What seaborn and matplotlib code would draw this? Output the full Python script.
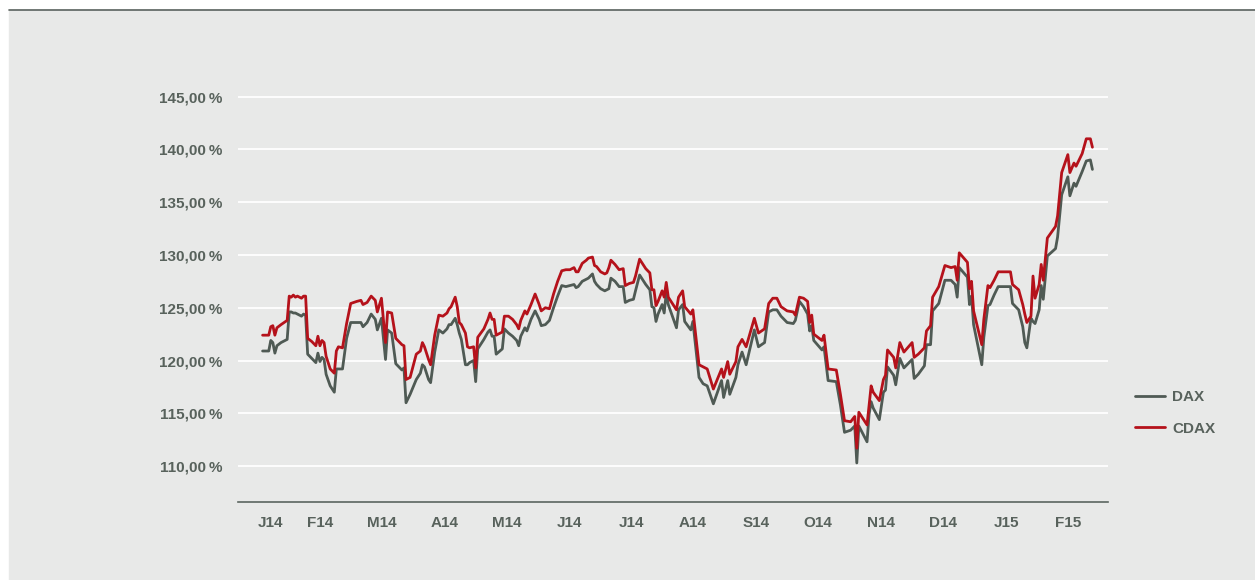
import pandas as pd
import seaborn as sns
import matplotlib.pyplot as plt
from matplotlib.patches import Rectangle
from matplotlib.lines import Line2D

# Tage seit 01.01.2014, Indexstand in %
days = [3, 6, 7, 8, 9, 10, 12, 15, 16, 17, 18, 19, 20, 22, 23, 24, 25, 27, 29, 30,
        31, 32, 33, 34, 36, 38, 39, 40, 42, 44, 46, 49, 51, 52, 54, 56, 58, 59, 61, 63,
        64, 66, 68, 71, 72, 73, 75, 78, 80, 81, 82, 84, 85, 87, 89, 91, 93, 94, 95, 97,
        98, 99, 100, 102, 103, 104, 106, 107, 108, 111, 113, 114, 115, 116, 117, 120, 121, 123, 125, 127,
        128, 129, 131, 132, 134, 136, 138, 139, 141, 143, 145, 147, 149, 151, 153, 155, 156, 157, 159, 161,
        162, 164, 165, 166, 168, 170, 171, 172, 173, 175, 177, 179, 180, 182, 184, 185, 187, 190, 192, 193,
        194, 195, 196, 198, 199, 200, 201, 203, 205, 206, 208, 209, 212, 213, 216, 218, 220, 223, 227, 228,
        230, 231, 234, 235, 237, 239, 243, 245, 248, 250, 252, 254, 256, 259, 262, 263, 265, 267, 269, 270,
        271, 272, 276, 277, 279, 283, 285, 287, 290, 292, 293, 294, 298, 299, 300, 301, 304, 306, 307, 308,
        311, 312, 314, 316, 320, 321, 323, 326, 327, 329, 330, 333, 336, 339, 341, 342, 343, 347, 348, 349,
        350, 354, 355, 357, 358, 360, 362, 368, 369, 372, 374, 375, 376, 378, 379, 380, 382, 383, 384, 386,
        390, 391, 393, 396, 397, 399, 400, 403, 405, 407, 408]

cdax = [122.4, 122.4, 123.2, 123.3, 122.4, 123.1, 123.4, 123.8, 126.1, 126.0, 126.2, 126.0, 126.1, 125.9, 126.1, 126.1, 122.1, 121.8, 121.4, 122.3,
        121.4, 121.9, 121.7, 120.4, 119.2, 118.8, 120.9, 121.3, 121.2, 123.5, 125.4, 125.6, 125.7, 125.3, 125.5, 126.1, 125.7, 124.6, 125.9, 121.7,
        124.6, 124.5, 122.1, 121.5, 121.4, 118.2, 118.4, 120.6, 120.9, 121.7, 121.3, 120.1, 119.6, 122.4, 124.3, 124.2, 124.5, 124.9, 125.1, 126.0,
        125.1, 123.6, 123.4, 122.6, 121.3, 121.2, 121.3, 119.3, 122.2, 123.0, 123.9, 124.5, 123.9, 123.9, 122.4, 122.7, 124.2, 124.2, 123.9, 123.4,
        123.0, 123.8, 124.7, 124.4, 125.3, 126.3, 125.3, 124.7, 125.0, 124.9, 126.3, 127.5, 128.5, 128.6, 128.6, 128.8, 128.4, 128.4, 129.2, 129.5,
        129.7, 129.8, 129.0, 128.9, 128.4, 128.2, 128.3, 128.8, 129.5, 129.1, 128.6, 128.7, 127.1, 127.3, 127.4, 128.0, 129.6, 128.7, 128.3, 126.7,
        126.7, 125.2, 125.6, 126.6, 126.0, 127.4, 126.0, 125.4, 124.8, 126.0, 126.6, 125.1, 124.4, 124.8, 119.6, 119.4, 119.2, 117.3, 119.2, 118.4,
        119.9, 118.7, 119.9, 121.3, 122.0, 121.3, 124.0, 122.6, 123.0, 125.4, 125.9, 125.9, 125.1, 124.7, 124.6, 124.3, 126.0, 125.9, 125.6, 123.6,
        124.3, 122.5, 121.9, 122.4, 119.2, 119.1, 116.8, 114.3, 114.2, 114.7, 111.7, 115.1, 113.9, 115.8, 117.6, 117.0, 116.2, 118.2, 118.6, 121.0,
        120.3, 119.3, 121.7, 120.8, 121.7, 120.3, 120.6, 121.2, 122.8, 123.3, 126.0, 127.0, 129.0, 128.8, 128.9, 127.6, 130.2, 129.3, 126.8, 127.5,
        124.7, 121.5, 123.9, 127.1, 126.9, 127.6, 128.4, 128.4, 127.2, 126.7, 125.3, 124.4, 123.6, 124.2, 128.0, 125.9, 127.2, 129.1, 127.6, 131.6,
        132.7, 133.7, 137.8, 139.5, 137.8, 138.7, 138.4, 139.6, 141.0, 141.0, 140.2]

dax = [120.9, 120.9, 121.9, 121.7, 120.7, 121.4, 121.7, 122.0, 124.6, 124.6, 124.5, 124.5, 124.4, 124.2, 124.4, 124.3, 120.6, 120.2, 119.8, 120.7,
       119.9, 120.3, 120.1, 118.7, 117.6, 117.0, 119.2, 119.2, 119.2, 122.1, 123.6, 123.6, 123.6, 123.2, 123.6, 124.4, 123.9, 122.9, 124.0, 120.1,
       122.9, 122.6, 119.7, 119.1, 119.3, 116.0, 116.8, 118.2, 118.8, 119.6, 119.4, 118.2, 117.9, 120.8, 122.9, 122.6, 123.0, 123.4, 123.4, 124.0,
       123.4, 122.6, 122.0, 119.6, 119.6, 119.8, 120.0, 118.0, 121.1, 122.0, 122.7, 122.9, 122.3, 122.3, 120.6, 121.1, 123.0, 122.6, 122.3, 121.9,
       121.4, 122.3, 123.1, 122.8, 123.9, 124.7, 123.9, 123.3, 123.4, 123.8, 125.0, 126.1, 127.1, 127.0, 127.1, 127.2, 126.9, 127.0, 127.5, 127.7,
       127.8, 128.2, 127.5, 127.2, 126.8, 126.6, 126.7, 126.8, 127.8, 127.5, 127.0, 127.0, 125.5, 125.7, 125.8, 126.6, 128.1, 127.2, 126.7, 125.1,
       125.0, 123.7, 124.4, 125.3, 124.5, 126.4, 125.3, 124.2, 123.1, 124.8, 125.3, 123.7, 122.9, 123.7, 118.4, 117.8, 117.6, 115.9, 118.1, 116.5,
       118.1, 116.8, 118.4, 119.6, 120.8, 119.6, 122.9, 121.3, 121.7, 124.6, 124.8, 124.8, 124.2, 123.6, 123.5, 123.8, 125.6, 125.1, 124.4, 122.8,
       123.3, 121.9, 121.0, 121.3, 118.1, 118.0, 115.8, 113.2, 113.4, 113.8, 110.3, 113.8, 112.3, 114.9, 116.1, 115.5, 114.4, 117.0, 117.2, 119.4,
       118.6, 117.7, 120.2, 119.3, 120.1, 118.3, 118.7, 119.5, 121.5, 121.5, 124.7, 125.4, 127.6, 127.6, 127.2, 126.0, 128.8, 127.9, 125.3, 126.1,
       123.4, 119.6, 122.2, 125.2, 125.3, 126.2, 127.0, 127.0, 125.4, 124.8, 123.2, 121.7, 121.2, 124.0, 123.7, 123.5, 124.8, 127.1, 125.8, 129.9,
       130.6, 131.7, 135.7, 137.4, 135.6, 136.8, 136.5, 137.9, 138.9, 139.0, 138.1]

tick_days = [7, 31, 61, 92, 122, 153, 183, 213, 244, 274, 305, 335, 366, 396]
tick_labels = ['J14', 'F14', 'M14', 'A14', 'M14', 'J14', 'J14', 'A14', 'S14', 'O14',
               'N14', 'D14', 'J15', 'F15']
y_ticks = [110, 115, 120, 125, 130, 135, 140, 145]

df = pd.concat([
    pd.DataFrame({'Tag': days, 'Wert': dax, 'Index': 'DAX'}),
    pd.DataFrame({'Tag': days, 'Wert': cdax, 'Index': 'CDAX'}),
])

bg = '#e8e9e8'
grau = '#4f5a54'
rot = '#b5121b'
txt = '#58625c'

sns.set_style('white')
plt.rcParams['font.family'] = ['Liberation Sans', 'DejaVu Sans']

fig = plt.figure(figsize=(12.55, 5.8), dpi=100)
fig.patch.set_facecolor('white')
fig.patches.append(Rectangle((9 / 1255, 0), 1 - 9 / 1255, 1 - 10 / 580,
                             transform=fig.transFigure, color=bg, zorder=-5))
fig.lines.append(Line2D([9 / 1255, 1], [1 - 10 / 580, 1 - 10 / 580],
                        transform=fig.transFigure, color='#5a625e', lw=1.2, zorder=-4))

ax = fig.add_axes([238 / 1255, 1 - 502 / 580, 870 / 1255, 416 / 580])
ax.patch.set_visible(False)

sns.lineplot(data=df, x='Tag', y='Wert', hue='Index', hue_order=['DAX', 'CDAX'],
             palette={'DAX': grau, 'CDAX': rot}, linewidth=2.0, ax=ax, legend=False)

ax.set_xlim(-9, 415.6)
ax.set_ylim(106.6, 146.0)
ax.set_yticks(y_ticks)
ax.set_yticklabels([f'{v},00\u2009%' for v in y_ticks])
ax.set_xticks(tick_days)
ax.set_xticklabels(tick_labels)
ax.set_xlabel('')
ax.set_ylabel('')
ax.grid(axis='y', color='white', linewidth=1.3)
ax.grid(axis='x', visible=False)
ax.set_axisbelow(True)
ax.tick_params(axis='both', length=0, labelsize=11, labelcolor=txt)
ax.tick_params(axis='y', pad=11)
ax.tick_params(axis='x', pad=10)
for lab in ax.get_xticklabels() + ax.get_yticklabels():
    lab.set_fontweight('bold')

for s in ['top', 'right', 'left']:
    ax.spines[s].set_visible(False)
ax.spines['bottom'].set_color('#5b6660')
ax.spines['bottom'].set_linewidth(1.2)

handles = [Line2D([], [], color=grau, lw=2.0), Line2D([], [], color=rot, lw=2.0)]
leg = ax.legend(handles, ['DAX', 'CDAX'], loc='center left',
                bbox_to_anchor=(1135 / 1255, 1 - 413 / 580), bbox_transform=fig.transFigure,
                frameon=False, handlelength=1.95, handletextpad=0.5, labelspacing=1.15,
                borderpad=0, borderaxespad=0, prop={'weight': 'bold', 'size': 11})
for t in leg.get_texts():
    t.set_color(txt)

fig.savefig('out.png', dpi=100, facecolor=fig.get_facecolor())
